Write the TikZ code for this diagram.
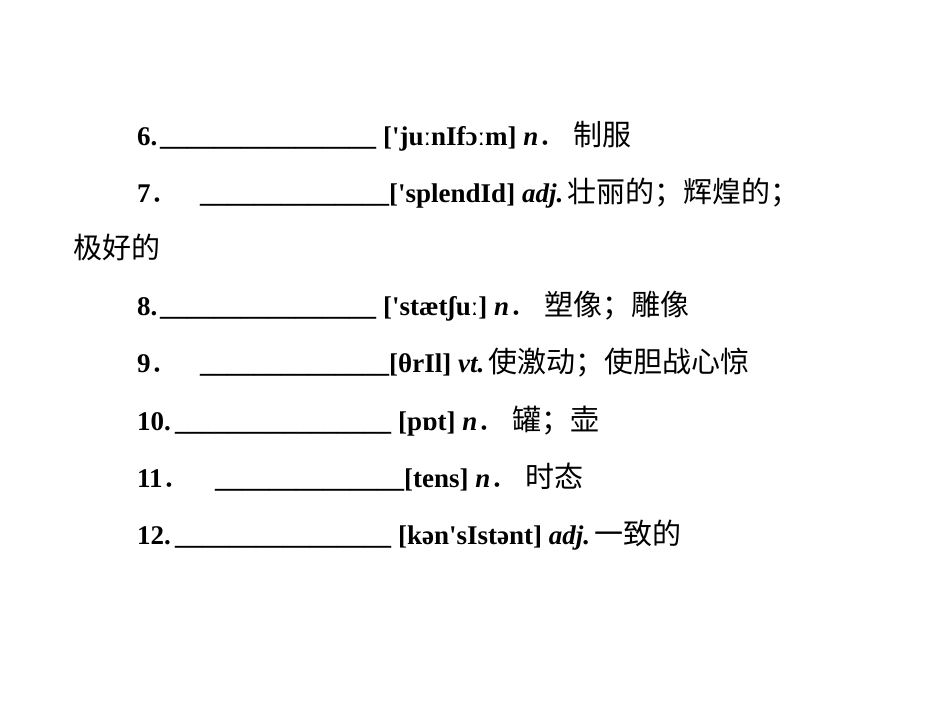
\documentclass[tikz,border=0pt]{standalone}
\usepackage{fontspec}
\setmainfont{Liberation Serif}[Ligatures=NoCommon]
\newfontfamily\cjk{Noto Sans CJK SC}
\newcommand\zh[1]{{\cjk\mdseries\upshape\fontsize{29}{30}\selectfont #1}}
\newcommand\ap{\textquotesingle}
\newcommand\bi[1]{{\bfseries\itshape #1}}
\begin{document}
\begin{tikzpicture}[x=1pt,y=-1pt,txt/.style={anchor=base west,inner sep=0pt,font=\fontsize{27}{30}\selectfont\bfseries}]
\useasboundingbox (0,0) rectangle (950,713);
\fill[white] (0,0) rectangle (950,713);
% line 1
\node[txt] (n6) at (137,145) {6.};
\node[txt] (u6) at (160,145) {\_\_\_\_\_\_\_\_\_\_\_\_\_\_\_\_};
\node[txt] (t6) at (383,145) {[\ap juːnIfɔːm] \bi{n}\zh{．}\hspace{6pt}\zh{制服}};
% line 2
\node[txt] (n7) at (137,202) {7\zh{．}};
\node[txt] (u7) at (200,202) {\_\_\_\_\_\_\_\_\_\_\_\_\_\_};
\node[txt] (t7) at (389,202) {[\ap splendId] \bi{adj.}\,\zh{壮丽的；辉煌的；}};
\node[txt] (t7b) at (73,258) {\zh{极好的}};
% line 4
\node[txt] (n8) at (137,315) {8.};
\node[txt] (u8) at (160,315) {\_\_\_\_\_\_\_\_\_\_\_\_\_\_\_\_};
\node[txt] (t8) at (383,315) {[\ap stætʃuː] \bi{n}\zh{．}\hspace{6pt}\zh{塑像；雕像}};
% line 5
\node[txt] (n9) at (137,372) {9\zh{．}};
\node[txt] (u9) at (200,372) {\_\_\_\_\_\_\_\_\_\_\_\_\_\_};
\node[txt] (t9) at (389,372) {[θrIl] \bi{vt.}\,\zh{使激动；使胆战心惊}};
% line 6
\node[txt] (n10) at (137,430) {10.};
\node[txt] (u10) at (175,430) {\_\_\_\_\_\_\_\_\_\_\_\_\_\_\_\_};
\node[txt] (t10) at (398,430) {[pɒt] \bi{n}\zh{．}\hspace{6pt}\zh{罐；壶}};
% line 7
\node[txt] (n11) at (137,487) {11\zh{．}};
\node[txt] (u11) at (215,487) {\_\_\_\_\_\_\_\_\_\_\_\_\_\_};
\node[txt] (t11) at (404,487) {[tens] \bi{n}\zh{．}\hspace{6pt}\zh{时态}};
% line 8
\node[txt] (n12) at (137,544) {12.};
\node[txt] (u12) at (175,544) {\_\_\_\_\_\_\_\_\_\_\_\_\_\_\_\_};
\node[txt] (t12) at (398,544) {[kən\ap sIstənt] \bi{adj.}\,\zh{一致的}};
\end{tikzpicture}
\end{document}
